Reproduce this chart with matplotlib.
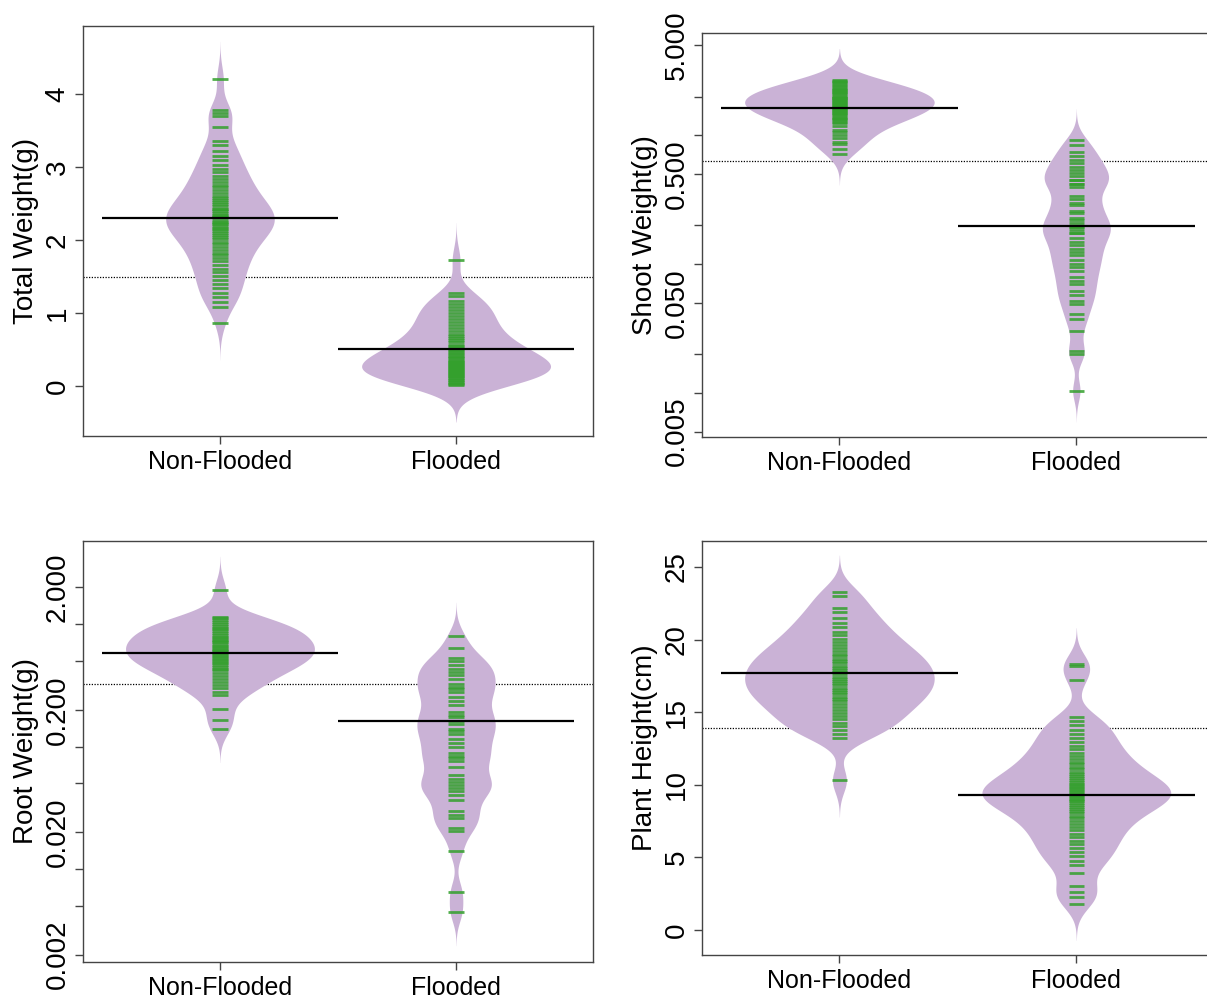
import numpy as np
import matplotlib
matplotlib.use("Agg")
import matplotlib.pyplot as plt

GROUPS = ["Non-Flooded", "Flooded"]

# Total weight (g): individual plants, group means, overall mean
total_nf = [4.21, 3.78, 3.74, 3.70, 3.55, 3.36, 3.30, 3.22, 3.15, 3.09, 3.03, 2.98,
            2.93, 2.88, 2.84, 2.80, 2.76, 2.72, 2.68, 2.65, 2.61, 2.58, 2.55, 2.52,
            2.49, 2.46, 2.43, 2.42, 2.40, 2.37, 2.34, 2.33, 2.31, 2.28, 2.25, 2.24,
            2.22, 2.19, 2.16, 2.15, 2.13, 2.10, 2.07, 2.04, 2.01, 1.98, 1.95, 1.91,
            1.87, 1.83, 1.79, 1.75, 1.71, 1.66, 1.61, 1.56, 1.51, 1.46, 1.40, 1.34,
            1.28, 1.22, 1.15, 1.09, 0.87]
total_fl = [1.73, 1.27, 1.23, 1.16, 1.12, 1.08, 1.04, 1.00, 0.96, 0.92, 0.88, 0.84,
            0.80, 0.76, 0.72, 0.69, 0.66, 0.63, 0.60, 0.57, 0.55, 0.52, 0.50, 0.48,
            0.46, 0.44, 0.42, 0.40, 0.38, 0.36, 0.35, 0.33, 0.32, 0.30, 0.29, 0.28,
            0.26, 0.25, 0.24, 0.22, 0.21, 0.20, 0.18, 0.17, 0.15, 0.14, 0.12, 0.11,
            0.09, 0.08, 0.06, 0.05, 0.03, 0.02]
total_means = [2.30, 0.51]
total_overall = 1.50

# Shoot weight (g), log scale
shoot_nf = [2.70, 2.65, 2.60, 2.55, 2.47, 2.40, 2.35, 2.30, 2.25, 2.20, 2.16, 2.12,
            2.08, 2.04, 2.00, 1.97, 1.94, 1.91, 1.88, 1.85, 1.82, 1.79, 1.76, 1.73,
            1.70, 1.67, 1.64, 1.61, 1.58, 1.55, 1.52, 1.49, 1.46, 1.43, 1.40, 1.37,
            1.34, 1.31, 1.28, 1.24, 1.18, 1.11, 1.07, 1.01, 0.95, 0.89, 0.86, 0.78,
            0.72]
shoot_fl = [0.92, 0.84, 0.75, 0.69, 0.64, 0.61, 0.57, 0.54, 0.51, 0.48, 0.45, 0.45,
            0.42, 0.42, 0.40, 0.34, 0.32, 0.30, 0.29, 0.26, 0.25, 0.23, 0.22, 0.21,
            0.195, 0.195, 0.183, 0.173, 0.173, 0.161, 0.149, 0.140, 0.132, 0.124,
            0.117, 0.107, 0.101, 0.095, 0.089, 0.080, 0.074, 0.070, 0.062, 0.058,
            0.052, 0.049, 0.041, 0.0375, 0.030, 0.021, 0.020, 0.0104]
shoot_means = [1.63, 0.199]
shoot_overall = 0.635

# Root weight (g), log scale
root_nf = [1.90, 1.15, 1.12, 1.08, 1.04, 1.00, 0.97, 0.94, 0.91, 0.88, 0.85, 0.82,
           0.79, 0.77, 0.75, 0.73, 0.71, 0.69, 0.67, 0.65, 0.63, 0.61, 0.60, 0.58,
           0.57, 0.55, 0.54, 0.52, 0.51, 0.49, 0.48, 0.46, 0.45, 0.43, 0.42, 0.40,
           0.38, 0.36, 0.34, 0.32, 0.30, 0.28, 0.265, 0.204, 0.166, 0.140]
root_fl = [0.80, 0.634, 0.532, 0.499, 0.463, 0.434, 0.408, 0.383, 0.360, 0.325,
           0.309, 0.294, 0.279, 0.253, 0.237, 0.220, 0.191, 0.182, 0.173, 0.162,
           0.154, 0.140, 0.133, 0.126, 0.116, 0.108, 0.100, 0.088, 0.084, 0.080,
           0.076, 0.068, 0.059, 0.054, 0.0515, 0.049, 0.046, 0.043, 0.0405, 0.0364,
           0.0296, 0.0278, 0.0261, 0.0216, 0.0203, 0.0141, 0.0065, 0.00446]
root_means = [0.577, 0.163]
root_overall = 0.325

# Plant height (cm)
height_nf = [23.3, 23.0, 22.2, 21.9, 21.5, 21.15, 20.85, 20.55, 20.3, 20.05, 19.82,
             19.6, 19.4, 19.2, 19.02, 18.85, 18.68, 18.52, 18.36, 18.2, 18.05, 17.9,
             17.75, 17.6, 17.45, 17.3, 17.15, 17.0, 16.85, 16.7, 16.55, 16.4, 16.24,
             16.08, 15.92, 15.75, 15.57, 15.38, 15.18, 14.97, 14.75, 14.52, 14.28,
             14.03, 13.77, 13.5, 13.25, 10.3]
height_fl = [18.3, 18.2, 17.2, 14.7, 14.4, 14.1, 13.8, 13.5, 13.2, 12.95, 12.7,
             12.45, 12.2, 12.0, 11.8, 11.6, 11.4, 11.23, 11.06, 10.9, 10.74, 10.6,
             10.46, 10.32, 10.2, 10.08, 9.97, 9.86, 9.75, 9.65, 9.55, 9.45, 9.35,
             9.25, 9.15, 9.05, 8.95, 8.85, 8.74, 8.62, 8.49, 8.35, 8.2, 8.04, 7.87,
             7.69, 7.5, 7.3, 7.09, 6.87, 6.64, 6.4, 6.15, 5.9, 5.63, 5.35, 5.06,
             4.76, 4.5, 3.9, 3.0, 2.6, 2.3, 1.8]
height_means = [17.73, 9.31]
height_overall = 13.88

# y axis ticks
total_ticks = [0, 1, 2, 3, 4]
shoot_ticks = [5, 2, 1, 0.5, 0.2, 0.1, 0.05, 0.02, 0.01, 0.005]
shoot_ticklabels = ["5.000", "", "", "0.500", "", "", "0.050", "", "", "0.005"]
root_ticks = [2, 1, 0.5, 0.2, 0.1, 0.05, 0.02, 0.01, 0.005, 0.002]
root_ticklabels = ["2.000", "", "", "0.200", "", "", "0.020", "", "", "0.002"]
height_ticks = [0, 5, 10, 15, 20, 25]

BEAN = "#CAB2D6"
LINE = "#33A02C"
FRAME = "#444444"

plt.rcParams["font.family"] = ["Liberation Sans", "DejaVu Sans"]


def kde(values, bw, log):
    x = np.log10(values) if log else np.asarray(values, float)
    grid = np.linspace(x.min() - 3 * bw, x.max() + 3 * bw, 600)
    dens = np.exp(-0.5 * ((grid[:, None] - x[None, :]) / bw) ** 2).sum(axis=1)
    dens /= len(x) * bw * np.sqrt(2 * np.pi)
    return grid, dens


def draw_panel(ax, samples, means, overall, bw, log, ylabel, ylim, ticks, ticklabels):
    curves = [kde(s, bw, log) for s in samples]
    peak = max(d.max() for _, d in curves)
    for pos, (grid, dens), vals, m in zip([1, 2], curves, samples, means):
        y = 10 ** grid if log else grid
        hw = dens / peak * 0.4
        ax.fill_betweenx(y, pos - hw, pos + hw, color=BEAN, lw=0, zorder=1)
        ax.hlines(vals, pos - 0.033, pos + 0.033, colors=LINE, lw=2.0, alpha=0.85, zorder=2)
        ax.hlines(m, pos - 0.5, pos + 0.5, colors="black", lw=1.6, zorder=3)
    ax.axhline(overall, color="black", lw=0.9, ls=(0, (1, 1.2)), zorder=0)

    if log:
        ax.set_yscale("log")
    ax.set_ylim(*ylim)
    ax.set_xlim(0.42, 2.58)
    ax.minorticks_off()
    ax.set_yticks(ticks, ticklabels if ticklabels else [str(t) for t in ticks])
    ax.set_xticks([1, 2], GROUPS, fontsize=18)
    ax.tick_params(axis="both", direction="out", length=6, width=1, color=FRAME)
    ax.tick_params(axis="x", pad=4)
    ax.tick_params(axis="y", labelsize=20, labelrotation=90, pad=3)
    for lbl in ax.get_yticklabels():
        lbl.set_va("center")
    ax.set_ylabel(ylabel, fontsize=20, labelpad=4)
    for sp in ax.spines.values():
        sp.set_color(FRAME)
        sp.set_linewidth(1)


def main() -> None:
    fig = plt.figure(figsize=(12.07, 10.02), dpi=100)
    ax1 = fig.add_axes([0.0688, 0.565, 0.4225, 0.409])
    ax2 = fig.add_axes([0.5816, 0.564, 0.424, 0.403])
    ax3 = fig.add_axes([0.0688, 0.040, 0.4225, 0.420])
    ax4 = fig.add_axes([0.5816, 0.047, 0.424, 0.413])

    draw_panel(ax1, [total_nf, total_fl], total_means, total_overall, 0.17, False,
               "Total Weight(g)", (-0.68, 4.93), total_ticks, None)
    draw_panel(ax2, [shoot_nf, shoot_fl], shoot_means, shoot_overall, 0.081, True,
               "Shoot Weight(g)", (0.00455, 6.24), shoot_ticks, shoot_ticklabels)
    draw_panel(ax3, [root_nf, root_fl], root_means, root_overall, 0.092, True,
               "Root Weight(g)", (0.00174, 4.78), root_ticks, root_ticklabels)
    draw_panel(ax4, [height_nf, height_fl], height_means, height_overall, 0.84, False,
               "Plant Height(cm)", (-1.72, 26.79), height_ticks, None)

    fig.savefig("out.png", dpi=100)


if __name__ == "__main__":
    main()
